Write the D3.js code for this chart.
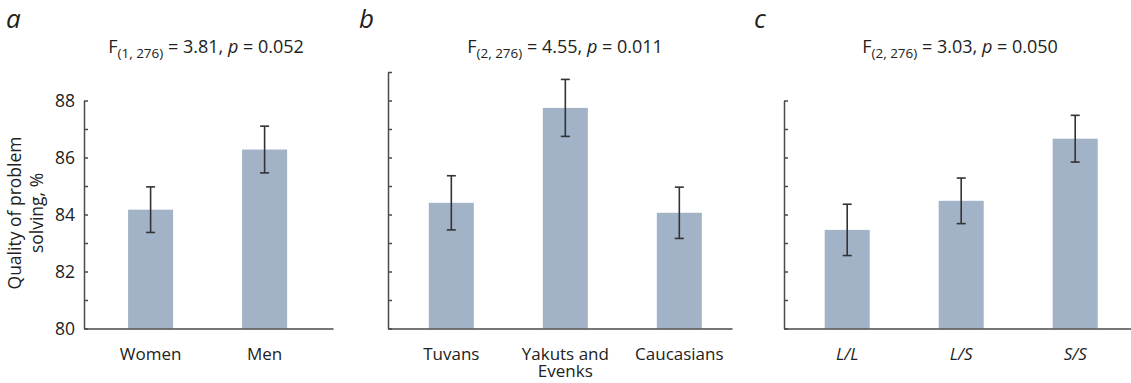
<!DOCTYPE html>
<html lang="en">
<head>
  <meta charset="UTF-8">
  <title>Quality of problem solving</title>
  <script src="https://d3js.org/d3.v7.min.js"></script>
  <style>
    body { margin: 0; background: #fff; }
    text { font-family: "Open Sans", "Noto Sans", sans-serif; fill: #222; }
  </style>
</head>
<body>
<svg width="1131" height="383"></svg>
<script>
  // panel a: sex
  var sexCats = ['Women', 'Men'];
  var sexMeans = [84.17, 86.28];
  var sexErr = [0.8, 0.82];

  // panel b: ethnic group
  var ethCats = ['Tuvans', 'Yakuts and\nEvenks', 'Caucasians'];
  var ethMeans = [84.41, 87.74, 84.06];
  var ethErr = [0.95, 1.0, 0.9];

  // panel c: genotype
  var genCats = ['L/L', 'L/S', 'S/S'];
  var genMeans = [83.46, 84.48, 86.66];
  var genErr = [0.9, 0.8, 0.82];

  var yTicks = [80, 81, 82, 83, 84, 85, 86, 87, 88, 89];

  var panels = [
    {letter: 'a', cats: sexCats, means: sexMeans, err: sexErr, df: '(1, 276)', F: '3.81', p: '0.052',
      x0: 84, x1: 333, yMax: 88, labels: true, italic: false, align: 0.49, lx: 6, titleX: 206},
    {letter: 'b', cats: ethCats, means: ethMeans, err: ethErr, df: '(2, 276)', F: '4.55', p: '0.011',
      x0: 388, x1: 732, yMax: 89, labels: false, italic: false, align: 0.575, lx: 359, titleX: 565},
    {letter: 'c', cats: genCats, means: genMeans, err: genErr, df: '(2, 276)', F: '3.03', p: '0.050',
      x0: 784, x1: 1131, yMax: 88, labels: false, italic: true, align: 0.55, lx: 754, titleX: 960}
  ];

  var svg = d3.select('svg');
  var y = d3.scaleLinear().domain([80, 89]).range([328.5, 72]);
  var barColor = '#a2b3c7';
  var axisColor = '#4a4a4a';

  panels.forEach(function (p) {
    var g = svg.append('g');

    var step = 114;
    var x = d3.scaleBand()
      .domain(p.cats)
      .range([p.x0, p.x1])
      .paddingInner(0.605)
      .paddingOuter(((p.x1 - p.x0) / step - p.cats.length + 0.605) / 2)
      .align(p.align);

    // panel letter
    g.append('text')
      .attr('x', p.lx)
      .attr('y', 28)
      .style('font-size', '26px')
      .style('font-style', 'italic')
      .text(p.letter);

    // stats title
    var t = g.append('text')
      .attr('x', p.titleX)
      .attr('y', 53)
      .attr('text-anchor', 'middle')
      .style('font-size', '18px');
    t.append('tspan').text('F');
    t.append('tspan').attr('dy', 5).style('font-size', '13.5px').text(p.df);
    t.append('tspan').attr('dy', -5).text(' = ' + p.F + ', ');
    t.append('tspan').style('font-style', 'italic').text('p');
    t.append('tspan').text(' = ' + p.p);

    // bars
    g.selectAll('rect')
      .data(p.means)
      .enter().append('rect')
      .attr('x', function (d, i) { return x(p.cats[i]); })
      .attr('width', x.bandwidth())
      .attr('y', function (d) { return y(d); })
      .attr('height', function (d) { return y(80) - y(d); })
      .attr('fill', barColor);

    // error bars
    var eb = g.selectAll('g.err')
      .data(p.means)
      .enter().append('g')
      .attr('class', 'err')
      .attr('stroke', '#333')
      .attr('stroke-width', 1.6);
    eb.append('line')
      .attr('x1', function (d, i) { return x(p.cats[i]) + x.bandwidth() / 2; })
      .attr('x2', function (d, i) { return x(p.cats[i]) + x.bandwidth() / 2; })
      .attr('y1', function (d, i) { return y(d + p.err[i]); })
      .attr('y2', function (d, i) { return y(d - p.err[i]); });
    [1, -1].forEach(function (s) {
      eb.append('line')
        .attr('x1', function (d, i) { return x(p.cats[i]) + x.bandwidth() / 2 - 4.5; })
        .attr('x2', function (d, i) { return x(p.cats[i]) + x.bandwidth() / 2 + 4.5; })
        .attr('y1', function (d, i) { return y(d + s * p.err[i]); })
        .attr('y2', function (d, i) { return y(d + s * p.err[i]); });
    });

    // y axis
    var ya = g.append('g')
      .attr('transform', 'translate(' + p.x0 + ',0)')
      .call(d3.axisLeft(d3.scaleLinear().domain([80, p.yMax]).range([y(80), y(p.yMax)]))
        .tickValues(yTicks.filter(function (v) { return v <= p.yMax; }))
        .tickSizeInner(-4)
        .tickSizeOuter(0)
        .tickPadding(9)
        .tickFormat(function (d) { return p.labels && d % 2 === 0 ? d : ''; }));
    ya.selectAll('path, line').attr('stroke', axisColor).attr('stroke-width', 1.5);
    ya.selectAll('text').style('font-size', '17.5px').attr('fill', '#222')
      .style('font-family', '"Open Sans", sans-serif');

    // x axis
    var xa = g.append('g')
      .attr('transform', 'translate(0,' + y(80) + ')')
      .call(d3.axisBottom(x).tickSize(0).tickSizeOuter(0));
    xa.select('.domain').attr('stroke', axisColor).attr('stroke-width', 1.5);
    xa.selectAll('text')
      .attr('y', 31)
      .attr('dy', 0)
      .style('font-size', '17px')
      .style('font-style', p.italic ? 'italic' : 'normal')
      .style('font-family', '"Open Sans", sans-serif')
      .attr('fill', '#222')
      .each(function (d) {
        var lines = d.split('\n');
        if (lines.length > 1) {
          var el = d3.select(this).text(null);
          lines.forEach(function (l, k) {
            el.append('tspan').attr('x', 0).attr('dy', k === 0 ? 0 : 17).text(l);
          });
        }
      });

    if (p.labels) {
      var yt = g.append('text')
        .attr('transform', 'translate(' + 21 + ',' + 213 + ') rotate(-90)')
        .attr('text-anchor', 'middle')
        .style('font-size', '17.5px');
      yt.append('tspan').attr('x', 0).attr('dy', 0).text('Quality of problem');
      yt.append('tspan').attr('x', 0).attr('dy', 22).text('solving, %');
    }
  });
</script>
</body>
</html>
